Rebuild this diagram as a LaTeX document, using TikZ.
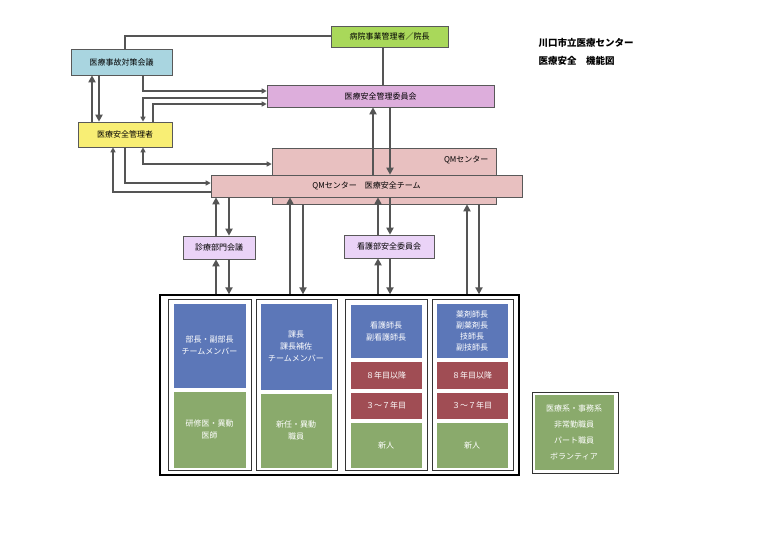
\documentclass[tikz,border=0pt]{standalone}
\usepackage{fontspec}
\setmainfont{Noto Sans CJK JP}
\usetikzlibrary{arrows.meta}
\definecolor{cblue}{HTML}{5C77B8}
\definecolor{cgreen}{HTML}{8AAA6C}
\definecolor{cred}{HTML}{A04D54}
\definecolor{cqm}{HTML}{E8C0C0}
\definecolor{cpur}{HTML}{DDAEDC}
\definecolor{clpur}{HTML}{EAD3F7}
\definecolor{clblue}{HTML}{A9D5E0}
\definecolor{cyel}{HTML}{F8EE74}
\definecolor{clime}{HTML}{A9D85A}
\definecolor{cline}{HTML}{555555}
\newcommand\bx[6][]{\node[box,#1,minimum width={#4-#2},minimum height={#5-#3}] (#6) at ({(#2+#4)/2},{(#3+#5)/2}) {};}
\begin{document}
\begin{tikzpicture}[x=1pt,y=-1pt,
 box/.style={draw=gray!70!black,line width=0.6pt,inner sep=0pt,font=\fontsize{8}{10}\selectfont},
 wt/.style={text=white,align=center,font=\fontsize{8}{12}\selectfont},
 thin/.style={draw=cline,line width=1.1pt,-{Triangle[length=5pt,width=5pt]}},
 thk/.style={draw=cline,line width=2.4pt,-{Triangle[length=7pt,width=7pt]}},
 pl/.style={draw=cline,line width=1.1pt}]
\useasboundingbox (0,0) rectangle (765,541);
% top boxes
\bx[fill=clime]{331}{26}{448}{47}{inch}
\bx[fill=clblue]{71}{49}{172}{75}{jiko}
\bx[fill=cpur]{267}{85}{494}{107}{iin}
\bx[fill=cyel]{78}{122}{172}{147}{kan}
\bx[fill=cqm]{272}{148}{496}{204}{qmb}
\bx[fill=cqm]{211}{175}{522}{197}{qmt}
\bx[fill=clpur]{183}{236}{255}{259}{shin}
\bx[fill=clpur]{344}{235}{434}{258}{kango}
\node[font=\fontsize{8}{10}\selectfont] at (inch) {病院事業管理者／院長};
\node[font=\fontsize{8}{10}\selectfont] at (jiko) {医療事故対策会議};
\node[font=\fontsize{8}{10}\selectfont] at (iin) {医療安全管理委員会};
\node[font=\fontsize{8}{10}\selectfont] at (kan) {医療安全管理者};
\node[font=\fontsize{8}{10}\selectfont,anchor=east] at (492,160) {QMセンター};
\node[font=\fontsize{8}{10}\selectfont] at (qmt) {QMセンター\quad 医療安全チーム};
\node[font=\fontsize{8}{10}\selectfont] at (shin) {診療部門会議};
\node[font=\fontsize{8}{10}\selectfont] at (kango) {看護部安全委員会};
% title
\node[anchor=west,font=\bfseries\fontsize{9.5}{12}\selectfont] at (535,43) {川口市立医療センター};
\node[anchor=west,font=\bfseries\fontsize{9.5}{12}\selectfont] at (535,61) {医療安全\quad 機能図};
% big box
\bx[draw=black,line width=1.3pt]{160}{295}{519}{475}{big}
\bx[draw=black!80]{168}{299}{251}{470}{c1}
\bx[draw=black!80]{256}{299}{337}{470}{c2}
\bx[draw=black!80]{345}{299}{427}{470}{c3}
\bx[draw=black!80]{432}{299}{513}{470}{c4}
\bx[draw=white,fill=cblue]{173}{303}{246}{388}{a1}
\bx[draw=white,fill=cgreen]{173}{391}{246}{468}{a2}
\bx[draw=white,fill=cblue]{260}{303}{332}{390}{b1}
\bx[draw=white,fill=cgreen]{260}{393}{332}{468}{b2}
\bx[draw=white,fill=cblue]{350}{304}{422}{358}{d1}
\bx[draw=white,fill=cred]{350}{361}{422}{389}{d2}
\bx[draw=white,fill=cred]{350}{392}{422}{419}{d3}
\bx[draw=white,fill=cgreen]{350}{422}{422}{468}{d4}
\bx[draw=white,fill=cblue]{436}{303}{508}{358}{e1}
\bx[draw=white,fill=cred]{436}{361}{508}{389}{e2}
\bx[draw=white,fill=cred]{436}{392}{508}{419}{e3}
\bx[draw=white,fill=cgreen]{436}{422}{508}{468}{e4}
\bx[draw=black!80]{532}{392}{618}{473}{side}
\bx[draw=white,fill=cgreen]{534}{394}{614}{470}{s1}
\node[wt] at (a1) {部長・副部長\\チームメンバー};
\node[wt] at (a2) {研修医・異動\\医師};
\node[wt] at (b1) {課長\\課長補佐\\チームメンバー};
\node[wt] at (b2) {新任・異動\\職員};
\node[wt] at (d1) {看護師長\\副看護師長};
\node[wt] at (d2) {８年目以降};
\node[wt] at (d3) {３～７年目};
\node[wt] at (d4) {新人};
\node[wt,font=\fontsize{8}{11}\selectfont] at (e1) {薬剤師長\\副薬剤長\\技師長\\副技師長};
\node[wt] at (e2) {８年目以降};
\node[wt] at (e3) {３～７年目};
\node[wt] at (e4) {新人};
\node[wt,font=\fontsize{8}{16}\selectfont] at (s1) {医療系・事務系\\非常勤職員\\パート職員\\ボランティア};
% connectors
\draw[pl] (jiko.north -| 125,0) |- (inch.west |- 0,36);
\draw[pl] (inch.south -| 383,0) -- (iin.north -| 383,0);
\draw[thk] (kan.north -| 92,0) -- (jiko.south -| 92,0);
\draw[thk] (jiko.south -| 99,0) -- (kan.north -| 99,0);
\draw[thin] (jiko.south -| 143,0) |- (iin.west |- 0,91);
\draw[thin] (iin.west |- 0,98) -| (kan.north -| 143,0);
\draw[thin] (kan.north -| 153,0) |- (iin.west |- 0,104);
\draw[thin,{Triangle[length=5pt,width=5pt]}-{Triangle[length=5pt,width=5pt]}] (kan.south -| 143,0) |- (qmb.west |- 0,164);
\draw[thin] (kan.south -| 125,0) |- (qmt.west |- 0,183);
\draw[thin] (qmt.west |- 0,192) -| (kan.south -| 113,0);
\draw[thk] (qmt.north -| 373,0) -- (iin.south -| 373,0);
\draw[thk] (iin.south -| 390,0) -- (qmt.north -| 390,0);
\draw[thk] (shin.north -| 216,0) -- (qmt.south -| 216,0);
\draw[thk] (qmt.south -| 229,0) -- (shin.north -| 229,0);
\draw[thk] (big.north -| 216,0) -- (shin.south -| 216,0);
\draw[thk] (shin.south -| 229,0) -- (big.north -| 229,0);
\draw[thk] (kango.north -| 378,0) -- (qmt.south -| 378,0);
\draw[thk] (qmt.south -| 390,0) -- (kango.north -| 390,0);
\draw[thk] (big.north -| 378,0) -- (kango.south -| 378,0);
\draw[thk] (kango.south -| 390,0) -- (big.north -| 390,0);
\draw[thk] (big.north -| 290,0) -- (qmt.south -| 290,0);
\draw[thk] (qmb.south -| 303,0) -- (big.north -| 303,0);
\draw[thk] (big.north -| 467,0) -- (qmb.south -| 467,0);
\draw[thk] (qmb.south -| 479,0) -- (big.north -| 479,0);
\end{tikzpicture}
\end{document}
